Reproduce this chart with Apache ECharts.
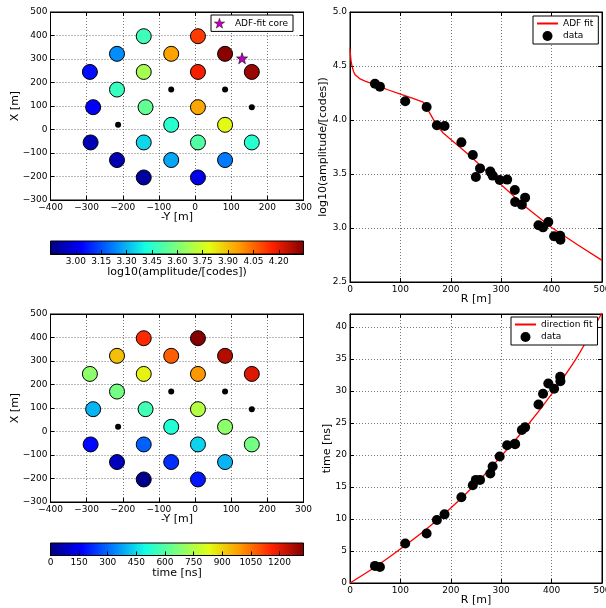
<!DOCTYPE html>
<html>
<head>
<meta charset="utf-8">
<script src="https://cdn.jsdelivr.net/npm/echarts@6/dist/echarts.min.js"></script>
<style>
  html, body { margin: 0; padding: 0; background: #fff; }
  #main { width: 606px; height: 608px; }
</style>
</head>
<body>
<div id="main"></div>
<script>
// station positions: -Y (horizontal) and X (vertical), metres
var stationNegY = [-142, 8, -216, -66, 83, -291, -142, 8, 157, -216, -282, -137, 8, -66, 83, -289, -142, 8, 157, -216, -66, 83, -142, 8];
var stationX = [397, 397, 322, 322, 322, 245, 245, 245, 245, 170, 95, 95, 95, 20, 20, -55, -55, -55, -55, -130, -130, -130, -204, -204];
// log10 amplitude and arrival time per station
var stationAmp = [3.485, 4.12, 3.241, 3.951, 4.336, 3.056, 3.676, 4.173, 4.309, 3.472, 3.025, 3.552, 3.944, 3.448, 3.793, 2.929, 3.352, 3.522, 3.444, 2.923, 3.281, 3.216, 2.892, 3.006];
var stationTime = [1150, 1320, 930, 1075, 1260, 690, 850, 995, 1205, 650, 400, 570, 755, 520, 690, 175, 290, 440, 650, 80, 225, 400, 15, 195];
// stations without signal
var emptyNegY = [-66, 83, 157, -213];
var emptyX = [170, 170, 95, 20];
// fitted core
var coreNegY = [130];
var coreX = [303];

// distance to shower axis and measured values
var dataR = [49.5, 59.4, 109.6, 152, 172.4, 187.6, 221, 243.7, 249.7, 258, 278.4, 283, 297, 311.8, 327, 327.6, 341, 347.4, 374, 383, 393.5, 405, 417, 417.5];
var dataAmp = [4.336, 4.309, 4.173, 4.12, 3.951, 3.944, 3.793, 3.676, 3.472, 3.552, 3.522, 3.485, 3.444, 3.448, 3.352, 3.241, 3.216, 3.281, 3.025, 3.006, 3.056, 2.923, 2.929, 2.892];
var dataTime = [2.67, 2.5, 6.17, 7.74, 9.83, 10.72, 13.4, 15.27, 16.1, 16.1, 17.1, 18.2, 19.76, 21.5, 21.75, 21.65, 23.9, 24.3, 27.87, 29.54, 31.16, 30.33, 32.2, 31.5];

// fit curves
var adfR = [0, 1, 2, 4, 7, 10, 15, 20, 30, 50, 75, 100, 125, 145, 150, 160, 172, 185, 200, 220, 240, 270, 300, 350, 400, 450, 500];
var adfVal = [4.66, 4.6, 4.55, 4.5, 4.45, 4.42, 4.4, 4.38, 4.36, 4.325, 4.28, 4.24, 4.2, 4.165, 4.13, 4.05, 3.95, 3.88, 3.82, 3.74, 3.66, 3.53, 3.4, 3.19, 3.005, 2.85, 2.7];
var dirR = [0, 50, 100, 150, 200, 250, 300, 350, 400, 450, 500];
var dirTime = [0, 2.5, 5.3, 8.3, 11.7, 15.5, 19.8, 24.4, 29.5, 35.2, 42.2];

var ampMin = 2.85, ampMax = 4.346;
var timeMin = 0, timeMax = 1326;

var jet = ['#000080', '#0000ff', '#0080ff', '#14ffe2', '#7bff7b', '#e2ff14', '#ff9700', '#ff2100', '#800000'];

var FONT = 'DejaVu Sans';
var STAR = 'path://M0,-10 L2.35,-3.24 9.51,-3.09 3.8,1.24 5.88,8.09 0,4 -5.88,8.09 -3.8,1.24 -9.51,-3.09 -2.35,-3.24 Z';

function zip(a, b, c) {
  return a.map(function (v, i) { return c ? [v, b[i], c[i]] : [v, b[i]]; });
}

function jetGradient() {
  return {
    type: 'linear', x: 0, y: 0, x2: 1, y2: 0,
    colorStops: jet.map(function (c, i) { return { offset: i / (jet.length - 1), color: c }; })
  };
}

var gridLine = { show: true, lineStyle: { color: '#777', width: 1, type: [1, 2] } };
var tickStyle = { show: true, inside: true, length: 4, lineStyle: { color: '#000' } };
var lineBlack = { show: true, onZero: false, lineStyle: { color: '#000', width: 1 } };
var labelStyle = { color: '#000', fontFamily: FONT, fontSize: 9 };
var nameStyle = { color: '#000', fontFamily: FONT, fontSize: 11 };

function mainAxis(gi, pos, min, max, interval, name, gap, fmt) {
  return {
    type: 'value', gridIndex: gi, position: pos, min: min, max: max, interval: interval,
    name: name, nameLocation: 'middle', nameGap: gap, nameTextStyle: nameStyle, nameMoveOverlap: false,
    axisLine: lineBlack, axisTick: tickStyle, splitLine: gridLine,
    axisLabel: Object.assign({ margin: 3, showMaxLabel: max % interval === 0, formatter: fmt }, labelStyle)
  };
}

// mirror axes: ticks only on top / right
function mirrorAxis(gi, pos, min, max, interval) {
  return {
    type: 'value', gridIndex: gi, position: pos, min: min, max: max, interval: interval,
    axisLine: lineBlack, axisTick: tickStyle, splitLine: { show: false }, axisLabel: { show: false }
  };
}

function cbAxis(gi, min, max, interval, name, fmt) {
  return {
    type: 'value', gridIndex: gi, position: 'bottom', min: min, max: max, interval: interval,
    name: name, nameLocation: 'middle', nameGap: 12.5, nameTextStyle: nameStyle, nameMoveOverlap: false,
    axisLine: lineBlack, axisTick: tickStyle, splitLine: { show: false },
    axisLabel: Object.assign({ margin: 3, formatter: fmt }, labelStyle)
  };
}

var fmtInt = function (v) { return String(v).replace('-', '\u2212'); };
var fmt1 = function (v) { return v.toFixed(1); };

function makeGrid(left, top, width, height, bg) {
  var g = {
    left: left, top: top, width: width, height: height,
    show: true, borderColor: '#000', borderWidth: 1,
    outerBoundsMode: 'none', containLabel: false
  };
  if (bg) g.backgroundColor = bg;
  return g;
}

function legendBox(left, top, items) {
  return {
    left: left, top: top, data: items, orient: 'vertical',
    backgroundColor: '#fff', borderColor: '#000', borderWidth: 1, borderRadius: 0,
    padding: [3, 5, 3, 3], itemWidth: 21, itemHeight: 10, itemGap: 3,
    textStyle: { color: '#000', fontFamily: FONT, fontSize: 9 }
  };
}

// legend entry for a fit line: line only, no marker
var hideMarker = { color: 'rgba(0,0,0,0)', borderWidth: 0, opacity: 0 };

var chart = echarts.init(document.getElementById('main'), null, { renderer: 'canvas' });

var option = {
  animation: false,
  backgroundColor: '#fff',
  grid: [
    makeGrid(50.5, 12, 253, 188),
    makeGrid(350, 12, 252, 270),
    makeGrid(50.5, 241, 253, 13, jetGradient()),
    makeGrid(50.5, 314, 253, 188),
    makeGrid(350, 314, 252, 269),
    makeGrid(50.5, 543, 253, 12.5, jetGradient())
  ],
  xAxis: [
    mainAxis(0, 'bottom', -400, 300, 100, '-Y [m]', 12, fmtInt),
    mainAxis(1, 'bottom', 0, 500, 100, 'R [m]', 12, fmtInt),
    cbAxis(2, ampMin, ampMax, 0.15, 'log10(amplitude/[codes])', function (v) {
      return (v < 2.9 || v > 4.3) ? '' : v.toFixed(2);
    }),
    mainAxis(3, 'bottom', -400, 300, 100, '-Y [m]', 12, fmtInt),
    mainAxis(4, 'bottom', 0, 500, 100, 'R [m]', 12, fmtInt),
    cbAxis(5, timeMin, timeMax, 150, 'time [ns]', function (v) {
      return v > 1250 ? '' : String(v);
    }),
    mirrorAxis(0, 'top', -400, 300, 100),
    mirrorAxis(1, 'top', 0, 500, 100),
    mirrorAxis(3, 'top', -400, 300, 100),
    mirrorAxis(4, 'top', 0, 500, 100)
  ],
  yAxis: [
    mainAxis(0, 'left', -300, 500, 100, 'X [m]', 30, fmtInt),
    mainAxis(1, 'left', 2.5, 5.0, 0.5, 'log10(amplitude/[codes])', 21, fmt1),
    { type: 'value', gridIndex: 2, min: 0, max: 1, show: false },
    mainAxis(3, 'left', -300, 500, 100, 'X [m]', 30, fmtInt),
    mainAxis(4, 'left', 0, 42, 5, 'time [ns]', 17, fmtInt),
    { type: 'value', gridIndex: 5, min: 0, max: 1, show: false },
    mirrorAxis(0, 'right', -300, 500, 100),
    mirrorAxis(1, 'right', 2.5, 5.0, 0.5),
    mirrorAxis(3, 'right', -300, 500, 100),
    mirrorAxis(4, 'right', 0, 42, 5)
  ],
  visualMap: [
    { show: false, type: 'continuous', seriesIndex: 0, dimension: 2, min: ampMin, max: ampMax, inRange: { color: jet } },
    { show: false, type: 'continuous', seriesIndex: 5, dimension: 2, min: timeMin, max: timeMax, inRange: { color: jet } }
  ],
  legend: [
    legendBox(211, 15, [{ name: 'ADF-fit core', icon: STAR, itemStyle: { color: '#bf00bf', borderColor: '#000', borderWidth: 0.4 } }]),
    legendBox(533, 16, [{ name: 'ADF fit', itemStyle: hideMarker }, 'data']),
    legendBox(511, 317, [{ name: 'direction fit', itemStyle: hideMarker }, 'data'])
  ],
  series: [
    // amplitude map
    {
      type: 'scatter', name: 'amp', xAxisIndex: 0, yAxisIndex: 0, symbolSize: 15,
      itemStyle: { borderColor: '#000', borderWidth: 1, opacity: 1 },
      data: zip(stationNegY, stationX, stationAmp), z: 3
    },
    {
      type: 'scatter', name: 'empty1', xAxisIndex: 0, yAxisIndex: 0, symbolSize: 6,
      itemStyle: { color: '#000', opacity: 1 }, data: zip(emptyNegY, emptyX)
    },
    {
      type: 'scatter', name: 'ADF-fit core', xAxisIndex: 0, yAxisIndex: 0, symbolSize: 11,
      symbol: STAR,
      itemStyle: { color: '#bf00bf', borderColor: '#000', borderWidth: 0.6, opacity: 1 },
      data: zip(coreNegY, coreX), z: 4
    },
    // lateral distribution
    {
      type: 'line', name: 'ADF fit', xAxisIndex: 1, yAxisIndex: 1, symbol: 'none', showSymbol: false,
      lineStyle: { color: '#ff0000', width: 1.3 }, itemStyle: { color: '#ff0000' },
      data: zip(adfR, adfVal), z: 2
    },
    {
      type: 'scatter', name: 'data', xAxisIndex: 1, yAxisIndex: 1, symbolSize: 10,
      itemStyle: { color: '#000', opacity: 1 }, data: zip(dataR, dataAmp), z: 3
    },
    // timing map
    {
      type: 'scatter', name: 'time', xAxisIndex: 3, yAxisIndex: 3, symbolSize: 15,
      itemStyle: { borderColor: '#000', borderWidth: 1, opacity: 1 },
      data: zip(stationNegY, stationX, stationTime), z: 3
    },
    {
      type: 'scatter', name: 'empty2', xAxisIndex: 3, yAxisIndex: 3, symbolSize: 6,
      itemStyle: { color: '#000', opacity: 1 }, data: zip(emptyNegY, emptyX)
    },
    // arrival times
    {
      type: 'line', name: 'direction fit', xAxisIndex: 4, yAxisIndex: 4, symbol: 'none', showSymbol: false,
      smooth: 0.3, lineStyle: { color: '#ff0000', width: 1.3 }, itemStyle: { color: '#ff0000' },
      data: zip(dirR, dirTime), z: 2
    },
    {
      type: 'scatter', name: 'data', xAxisIndex: 4, yAxisIndex: 4, symbolSize: 10,
      itemStyle: { color: '#000', opacity: 1 }, data: zip(dataR, dataTime), z: 3
    }
  ]
};

chart.setOption(option);
</script>
</body>
</html>
